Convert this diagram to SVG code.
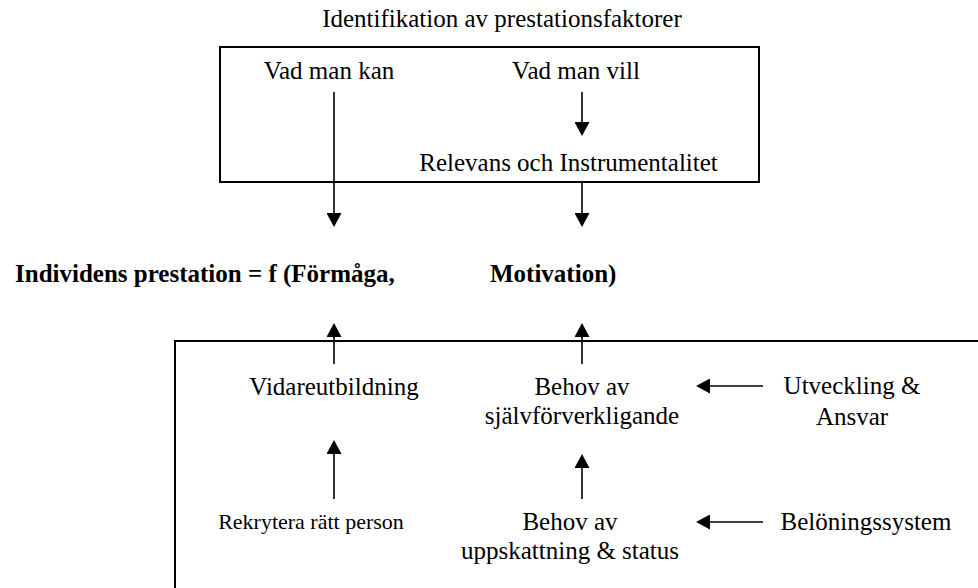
<svg xmlns="http://www.w3.org/2000/svg" width="978" height="588" viewBox="0 0 978 588">
  <defs>
    <!-- filled triangular arrowhead; the line ends at its base -->
    <marker id="head" markerUnits="userSpaceOnUse" markerWidth="15" markerHeight="15" refX="0" refY="7.5" orient="auto">
      <path d="M0,0 L14,7.5 L0,15 Z" fill="#000"/>
    </marker>
    <style>
      text { font-family: "Liberation Serif", "Times New Roman", serif; font-size: 25px; fill: #000; }
      .c { text-anchor: middle; }
      .b { font-weight: bold; }
      .sm { font-size: 22px; }
      .frame { fill: none; stroke: #000; stroke-width: 2; }
      .conn line { stroke: #000; stroke-width: 1.6; marker-end: url(#head); }
    </style>
  </defs>
  <rect width="978" height="588" fill="#fff"/>

  <!-- upper frame: identification of performance factors -->
  <g id="factors">
    <text class="c" x="502" y="27">Identifikation av prestationsfaktorer</text>
    <rect class="frame" x="220" y="47" width="539" height="135"/>
  </g>
  <g id="vad-man-kan">
    <text class="c" x="329" y="79">Vad man kan</text>
  </g>
  <g id="vad-man-vill">
    <text class="c" x="576" y="79">Vad man vill</text>
  </g>
  <g id="relevans">
    <text class="c" x="568.5" y="171">Relevans och Instrumentalitet</text>
  </g>

  <!-- performance formula -->
  <g id="formel">
    <text class="b" x="15" y="282">Individens prestation = f (Förmåga,</text>
    <text class="b" x="490" y="282">Motivation)</text>
  </g>

  <!-- lower frame, open to the right and bottom -->
  <g id="atgarder">
    <rect class="frame" x="175" y="341" width="900" height="400"/>
  </g>
  <g id="vidareutbildning">
    <text class="c" x="334" y="395">Vidareutbildning</text>
  </g>
  <g id="sjalvforverkligande">
    <text class="c" x="582" y="395">Behov av</text>
    <text class="c" x="582" y="424">självförverkligande</text>
  </g>
  <g id="utveckling">
    <text class="c" x="852" y="394">Utveckling &amp;</text>
    <text class="c" x="852" y="425">Ansvar</text>
  </g>
  <g id="rekrytera">
    <text class="c sm" x="311" y="529">Rekrytera rätt person</text>
  </g>
  <g id="uppskattning">
    <text class="c" x="570" y="530">Behov av</text>
    <text class="c" x="570" y="559">uppskattning &amp; status</text>
  </g>
  <g id="beloning">
    <text class="c" x="866" y="530">Belöningssystem</text>
  </g>

  <!-- connectors -->
  <g class="conn">
    <line x1="582" y1="92" x2="582" y2="122"/>
    <line x1="334" y1="92" x2="334" y2="213"/>
    <line x1="582" y1="182" x2="582" y2="213"/>
    <line x1="334" y1="364" x2="334" y2="337"/>
    <line x1="582" y1="364" x2="582" y2="337"/>
    <line x1="334" y1="499" x2="334" y2="454"/>
    <line x1="582" y1="499" x2="582" y2="468"/>
    <line x1="763" y1="386" x2="710" y2="386"/>
    <line x1="763" y1="522" x2="710" y2="522"/>
  </g>
</svg>
